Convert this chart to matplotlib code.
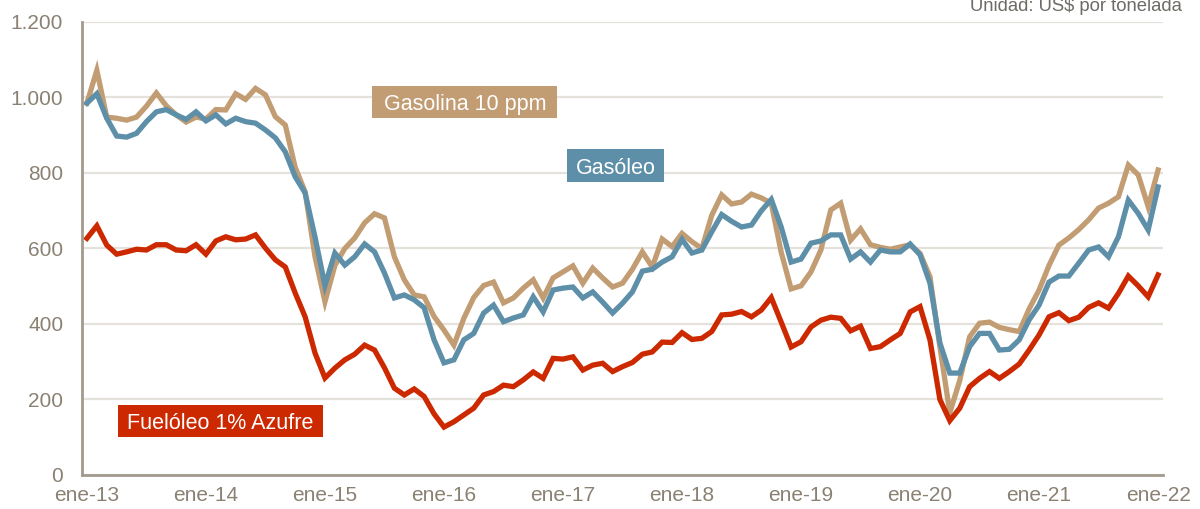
import numpy as np
import matplotlib.pyplot as plt
from matplotlib.patches import Rectangle

plt.rcParams['font.family'] = ['Liberation Sans', 'DejaVu Sans']

# monthly prices, ene-13 .. ene-22 (US$ por tonelada)
gasolina = [
    985, 1072, 948, 945, 940, 948, 977, 1012, 978, 954, 935, 948,
    943, 968, 967, 1010, 995, 1024, 1007, 949, 927, 815, 750, 578,
    459, 555, 600, 628, 668, 692, 681, 578, 517, 477, 472, 420,
    384, 344, 415, 470, 502, 511, 456, 469, 495, 517, 469, 522,
    538, 554, 508, 548, 522, 498, 508, 545, 591, 551, 625, 605,
    640, 618, 600, 688, 742, 718, 723, 744, 734, 720, 590, 493,
    501, 538, 596, 702, 720, 622, 652, 610, 603, 598, 604, 610,
    587, 525, 340, 165, 250, 366, 402, 405, 391, 385, 380, 440,
    490, 555, 609, 628, 650, 676, 707, 720, 737, 821, 795, 711,
    808,
]
gasoleo = [
    985, 1010, 945, 898, 895, 905, 936, 962, 968, 954, 942, 962,
    938, 954, 930, 945, 936, 932, 914, 893, 856, 790, 747, 630,
    502, 588, 556, 578, 612, 591, 535, 469, 477, 464, 443, 358,
    297, 305, 358, 375, 429, 450, 406, 416, 424, 472, 432, 490,
    495, 498, 469, 485, 458, 429, 455, 485, 540, 545, 564, 578,
    624, 588, 596, 644, 690, 672, 657, 662, 700, 730, 657, 564,
    572, 614, 620, 636, 636, 572, 591, 564, 596, 591, 591, 612,
    583, 508, 350, 270, 270, 340, 375, 375, 331, 333, 358, 411,
    450, 511, 527, 527, 561, 596, 604, 578, 631, 728, 693, 649,
    763,
]
fueloleo = [
    627, 660, 609, 585, 591, 598, 596, 610, 610, 596, 594, 610,
    585, 620, 631, 623, 625, 636, 601, 570, 551, 482, 419, 323,
    257, 283, 305, 320, 344, 331, 284, 230, 212, 228, 208, 162,
    127, 141, 159, 177, 212, 221, 238, 234, 252, 273, 256, 309,
    307, 313, 278, 291, 296, 274, 287, 298, 320, 326, 352, 351,
    377, 359, 362, 380, 424, 426, 433, 419, 437, 470, 405, 339,
    353, 392, 410, 418, 415, 382, 394, 335, 340, 358, 375, 432,
    446, 358, 200, 144, 177, 234, 256, 274, 256, 274, 294, 331,
    371, 419, 430, 409, 418, 444, 456, 442, 481, 527, 501, 472,
    530,
]
years = ['ene-13', 'ene-14', 'ene-15', 'ene-16', 'ene-17',
         'ene-18', 'ene-19', 'ene-20', 'ene-21', 'ene-22']

TAN = '#c29c72'
BLUE = '#5e8fa9'
RED = '#cc2900'
AXIS = '#a39a8e'
TEXT = '#8a8173'

months = np.arange(len(gasolina))

fig = plt.figure(figsize=(12, 5.09), dpi=100)
ax = fig.add_axes([0.0683, 0.0668, 0.9009, 0.89])

ax.plot(months, gasolina, color=TAN, lw=3.8, solid_joinstyle='miter')
ax.plot(months, gasoleo, color=BLUE, lw=3.8, solid_joinstyle='miter')
ax.plot(months, fueloleo, color=RED, lw=3.8, solid_joinstyle='miter')

ax.set_xlim(-0.5, len(months) - 0.5)
ax.set_ylim(0, 1200)
ax.set_yticks(range(0, 1201, 200))
ax.set_yticklabels([f'{v:,}'.replace(',', '.') for v in range(0, 1201, 200)])
ax.set_xticks(months[::12])
ax.set_xticklabels(years)

ax.grid(axis='y', color='#e5e2dc', lw=1.6)
ax.set_axisbelow(True)
for side in ['top', 'right']:
    ax.spines[side].set_visible(False)
for side in ['left', 'bottom']:
    ax.spines[side].set_color(AXIS)
    ax.spines[side].set_linewidth(2)
ax.tick_params(axis='y', length=0, pad=13.5, labelsize=15, labelcolor=TEXT)
ax.tick_params(axis='x', length=0, pad=8, labelsize=15, labelcolor=TEXT)

# series labels as filled boxes
labels = [
    ('Gasolina 10 ppm', TAN, 0.2687, 0.7873, 0.1711, 0.0706),
    ('Gasóleo', BLUE, 0.4486, 0.6468, 0.0897, 0.0728),
    ('Fuelóleo 1% Azufre', RED, 0.0333, 0.0832, 0.1895, 0.0706),
]
for text, color, x0, y0, w, h in labels:
    ax.add_patch(Rectangle((x0, y0), w, h, transform=ax.transAxes,
                           facecolor=color, edgecolor='none', zorder=5))
    ax.text(x0 + w / 2, y0 + h / 2, text, transform=ax.transAxes,
            ha='center', va='center_baseline', color='white',
            fontsize=15.5, zorder=6)

fig.text(0.985, 0.978, 'Unidad: US$ por tonelada', ha='right',
         va='baseline', fontsize=13.3, color='#6e6a66')

plt.savefig('out.png', dpi=100)
